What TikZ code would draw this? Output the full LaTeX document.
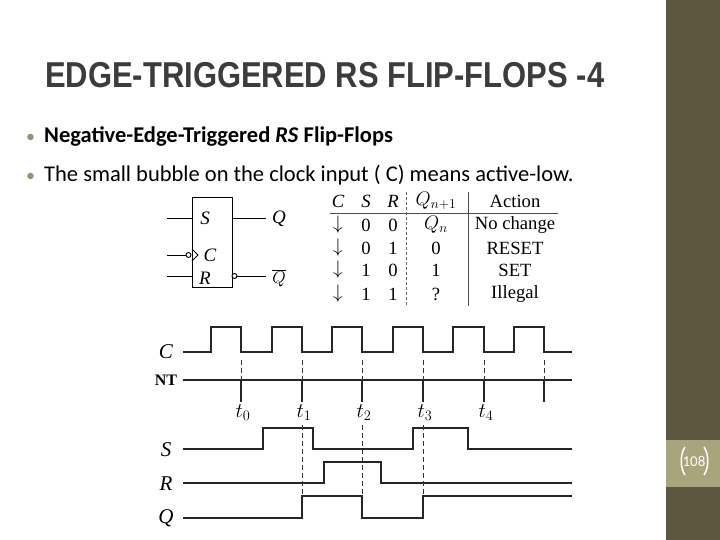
\documentclass[tikz,border=0pt]{standalone}
\usepackage{fontspec}
\setmainfont{Liberation Serif}
\newfontfamily\calfnt{Carlito}
\newfontfamily\ttlfnt{Liberation Sans}
\newfontfamily\serfnt{Liberation Serif}
\newcommand\labfnt{\serfnt\fontsize{19}{19}\selectfont\itshape}
\newcommand\bigfnt{\serfnt\fontsize{21}{21}\selectfont\itshape}
\newcommand\tbfnt{\serfnt\fontsize{16.5}{16.5}\selectfont}
\newcommand\tlfnt{\fontsize{20}{20}\selectfont}
\newcommand\tbx[1]{\scalebox{1.13}{\tbfnt #1}}
\begin{document}
\begin{tikzpicture}[x=1pt,y=-1pt,
  sig/.style={line width=1.2pt,black!85},
  dsh/.style={line width=1pt,dashed,dash pattern=on 5pt off 3pt,black!80}]
\useasboundingbox (0,0) rectangle (720,540);
\fill[white] (0,0) rectangle (720,540);
\fill[fill={rgb,255:red,93;green,87;blue,64}] (666,0) rectangle (720,540);
\fill[fill={rgb,255:red,168;green,164;blue,124}] (666,440) rectangle (720,487);
\node[text=white,font=\calfnt] (pg) at (694,461) {\fontsize{15}{15}\selectfont 108};
\draw[white,line width=1.5pt] (685,447) .. controls (680,454) and (680,468) .. (685,475);
\draw[white,line width=1.5pt] (704,447) .. controls (709,454) and (709,468) .. (704,475);
% title
\node[anchor=base west,text={rgb,255:red,60;green,60;blue,60},inner sep=0] (title) at (45,88)
  {\scalebox{0.86}[1]{\ttlfnt\bfseries\fontsize{36}{36}\selectfont EDGE-TRIGGERED RS FLIP-FLOPS -4}};
% bullets
\node[anchor=base west,inner sep=0,text={rgb,255:red,150;green,145;blue,110}] (b1) at (26,143) {\calfnt\fontsize{18}{18}\selectfont •};
\node[anchor=base west,inner sep=0] (l1) at (44,143) {\calfnt\fontsize{22.5}{22.5}\selectfont\bfseries Negative-Edge-Triggered \textit{RS} Flip-Flops};
\node[anchor=base west,inner sep=0,text={rgb,255:red,150;green,145;blue,110}] (b2) at (26,182) {\calfnt\fontsize{18}{18}\selectfont •};
\node[anchor=base west,inner sep=0] (l2) at (44,182) {\calfnt\fontsize{22.5}{22.5}\selectfont The small bubble on the clock input ( C) means active-low.};
% flip-flop symbol
\draw[line width=0.9pt] (192,197) rectangle (232,287);
\draw[line width=0.9pt] (167,218) -- (192,218);
\draw[line width=0.9pt] (167,276) -- (192,276);
\draw[line width=0.9pt] (167,255) -- (186,255);
\draw[line width=0.9pt,fill=white] (188.5,255) circle (2.5);
\draw[line width=0.9pt] (192,249) -- (198,255) -- (192,261);
\draw[line width=0.9pt] (232,218) -- (266,218);
\draw[line width=0.9pt,fill=white] (234.5,276) circle (2.5);
\draw[line width=0.9pt] (237,276) -- (266,276);
\node (ffs) at (205,218) {\labfnt S};
\node (ffc) at (210,255) {\labfnt C};
\node (ffr) at (205,278) {\labfnt R};
\node (ffq) at (279,219) {\labfnt Q};
\node (ffqb) at (279,278) {\labfnt $\overline{Q}$};
% table
\node (hc) at (338,201) {\tbx{\itshape C}};
\node (hs) at (366,201) {\tbx{\itshape S}};
\node (hr) at (393,201) {\tbx{\itshape R}};
\node (hq) at (436,201) {\tbx{$Q_{n+1}$}};
\node (ha) at (515,201) {\tbx{Action}};
\draw[line width=0.6pt,black!70] (330,213) -- (558,213);
\draw[line width=0.6pt,black!60,densely dashed] (406,192) -- (406,306);
\draw[line width=0.6pt,black!70] (468,192) -- (468,306);
\foreach \y/\s/\r/\q/\a [count=\i] in {225/0/0/$Q_n$/No change,248/0/1/0/RESET,270/1/0/1/SET,294/1/1/?/Illegal}{
  \node (ta\i) at (338,\y) {\tbx{$\downarrow$}};
  \node (tbs\i) at (366,\y) {\tbx{\s}};
  \node (tbr\i) at (393,\y) {\tbx{\r}};
  \node (tq\i) at (436,\y) {\tbx{\q}};
  \node (tac\i) at (515,\y) {\tbx{\a}};
}
% timing diagram
\node (lc) at (166,352) {\bigfnt C};
\node (lnt) at (166,380) {\serfnt\fontsize{16}{16}\selectfont\bfseries NT};
\node (ls) at (166,450) {\bigfnt S};
\node (lr) at (166,484) {\bigfnt R};
\node (lq) at (166,518) {\bigfnt Q};
\draw[sig] (183,352) -- (211,352) -- (211,327) -- (241,327) -- (241,352)
  -- (272,352) -- (272,327) -- (302,327) -- (302,352)
  -- (332,352) -- (332,327) -- (362,327) -- (362,352)
  -- (393,352) -- (393,327) -- (423,327) -- (423,352)
  -- (453,352) -- (453,327) -- (484,327) -- (484,352)
  -- (514,352) -- (514,327) -- (544,327) -- (544,352) -- (572,352);
\draw[sig] (183,380) -- (572,380);
\foreach \x/\lb in {241/0,302/1,362/2,423/3,484/4}{
  \draw[dsh] (\x,360) -- (\x,380);
  \draw[sig] (\x,380) -- (\x,402);
  \node (t\lb) at (\x+2,413) {\tlfnt $t_{\lb}$};
}
\draw[dsh] (544,360) -- (544,380);
\draw[sig] (544,380) -- (544,402);
\draw[sig] (183,449) -- (263,449) -- (263,428) -- (313,428) -- (313,449) -- (413,449) -- (413,428) -- (468,428) -- (468,449) -- (572,449);
\draw[sig] (183,483) -- (324,483) -- (324,462) -- (381,462) -- (381,483) -- (572,483);
\draw[sig] (183,518) -- (302,518) -- (302,496) -- (362,496) -- (362,518) -- (423,518) -- (423,496) -- (572,496);
\foreach \x in {302,362,423}{
  \draw[dsh] (\x,425) -- (\x,496);
}
\end{tikzpicture}
\end{document}
